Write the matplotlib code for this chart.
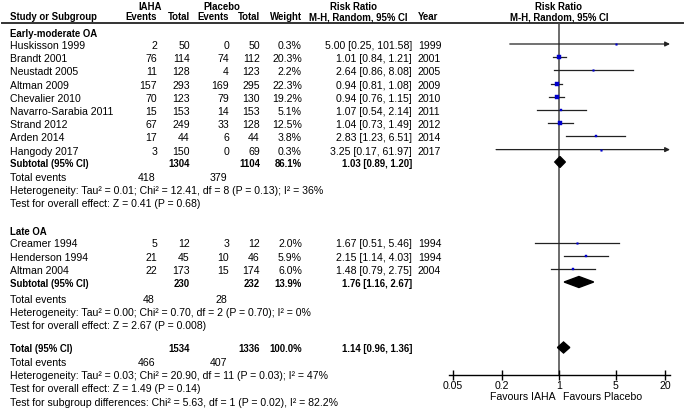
import numpy as np
import matplotlib.pyplot as plt

plt.rcParams['font.family'] = ['Liberation Sans', 'DejaVu Sans']
FS = 7.6
FSB = 6.9  # bold text renders wider, so a bit smaller

# Early-moderate OA studies
early_names = ["Huskisson 1999", "Brandt 2001", "Neustadt 2005", "Altman 2009", "Chevalier 2010",
               "Navarro-Sarabia 2011", "Strand 2012", "Arden 2014", "Hangody 2017"]
early_ev_iaha = [2, 76, 11, 157, 70, 15, 67, 17, 3]
early_tot_iaha = [50, 114, 128, 293, 123, 153, 249, 44, 150]
early_ev_pl = [0, 74, 4, 169, 79, 14, 33, 6, 0]
early_tot_pl = [50, 112, 123, 295, 130, 153, 128, 44, 69]
early_weight = [0.3, 20.3, 2.2, 22.3, 19.2, 5.1, 12.5, 3.8, 0.3]
early_rr = [5.00, 1.01, 2.64, 0.94, 0.94, 1.07, 1.04, 2.83, 3.25]
early_lo = [0.25, 0.84, 0.86, 0.81, 0.76, 0.54, 0.73, 1.23, 0.17]
early_hi = [101.58, 1.21, 8.08, 1.08, 1.15, 2.14, 1.49, 6.51, 61.97]
early_year = [1999, 2001, 2005, 2009, 2010, 2011, 2012, 2014, 2017]

# Late OA studies
late_names = ["Creamer 1994", "Henderson 1994", "Altman 2004"]
late_ev_iaha = [5, 21, 22]
late_tot_iaha = [12, 45, 173]
late_ev_pl = [3, 10, 15]
late_tot_pl = [12, 46, 174]
late_weight = [2.0, 5.9, 6.0]
late_rr = [1.67, 2.15, 1.48]
late_lo = [0.51, 1.14, 0.79]
late_hi = [5.46, 4.03, 2.75]
late_year = [1994, 1994, 2004]

# Pooled results: (total IAHA, total placebo, weight, rr, lo, hi)
sub_early = (1304, 1104, 86.1, 1.03, 0.89, 1.20)
sub_late = (230, 232, 13.9, 1.76, 1.16, 2.67)
overall = (1534, 1336, 100.0, 1.14, 0.96, 1.36)
events_early = (418, 379)
events_late = (48, 28)
events_all = (466, 407)

het_early = ["Heterogeneity: Tau² = 0.01; Chi² = 12.41, df = 8 (P = 0.13); I² = 36%",
             "Test for overall effect: Z = 0.41 (P = 0.68)"]
het_late = ["Heterogeneity: Tau² = 0.00; Chi² = 0.70, df = 2 (P = 0.70); I² = 0%",
            "Test for overall effect: Z = 2.67 (P = 0.008)"]
het_all = ["Heterogeneity: Tau² = 0.03; Chi² = 20.90, df = 11 (P = 0.03); I² = 47%",
           "Test for overall effect: Z = 1.49 (P = 0.14)",
           "Test for subgroup differences: Chi² = 5.63, df = 1 (P = 0.02), I² = 82.2%"]

tick_vals = [0.05, 0.2, 1, 5, 20]
tick_labels = ["0.05", "0.2", "1", "5", "20"]

# layout in pixels
W, H = 685, 410
X_LABEL, X_EV1, X_TOT1, X_EV2, X_TOT2, X_W, X_RR, X_YEAR = 10, 157, 190, 229, 260, 302, 412, 418
PLOT_L, PLOT_R, PLOT_T, PLOT_B = 449, 670, 24, 376
XMIN, XMAX = 0.045, 23.0
STEP = 13.2

fig = plt.figure(figsize=(W / 100, H / 100), dpi=100)
ax = fig.add_axes([0, 0, 1, 1])
ax.set_xlim(0, W)
ax.set_ylim(H, 0)
ax.axis('off')

fx = fig.add_axes([PLOT_L / W, 1 - PLOT_B / H, (PLOT_R - PLOT_L) / W, (PLOT_B - PLOT_T) / H])
fx.set_xscale('log')
fx.set_xlim(XMIN, XMAX)
fx.set_ylim(PLOT_B, PLOT_T)
fx.patch.set_visible(False)
for s in ['top', 'left', 'right']:
    fx.spines[s].set_visible(False)
fx.spines['bottom'].set_linewidth(1)
fx.set_yticks([])
fx.set_xticks(tick_vals)
fx.set_xticklabels(tick_labels, fontsize=FS)
fx.minorticks_off()
fx.tick_params(axis='x', direction='inout', length=7, width=1, pad=0)
fx.axvline(1, color='#444444', lw=1.1, zorder=1)


def txt(x, y, s, ha='left', bold=False):
    ax.text(x, y, s, ha=ha, va='center', fontsize=FSB if bold else FS,
            fontweight='bold' if bold else 'normal')


# headers
txt(150, 6.5, "IAHA", ha='center', bold=True)
txt(222, 6.5, "Placebo", ha='center', bold=True)
txt(354, 6.5, "Risk Ratio", ha='center', bold=True)
txt(559, 6.5, "Risk Ratio", ha='center', bold=True)
txt(X_LABEL, 17.5, "Study or Subgroup", bold=True)
txt(X_EV1, 17.5, "Events", ha='right', bold=True)
txt(X_TOT1, 17.5, "Total", ha='right', bold=True)
txt(X_EV2, 17.5, "Events", ha='right', bold=True)
txt(X_TOT2, 17.5, "Total", ha='right', bold=True)
txt(X_W, 17.5, "Weight", ha='right', bold=True)
txt(358, 17.5, "M-H, Random, 95% CI", ha='center', bold=True)
txt(X_YEAR, 17.5, "Year", bold=True)
txt(559, 17.5, "M-H, Random, 95% CI", ha='center', bold=True)
ax.plot([2, 683], [PLOT_T, PLOT_T], color='#333333', lw=1.4)


def study_rows(y0, names, e1, t1, e2, t2, w, rr, lo, hi, yr):
    ys = y0 + STEP * np.arange(len(names))
    for i, y in enumerate(ys):
        txt(X_LABEL, y + 1, names[i])
        txt(X_EV1, y + 1, str(e1[i]), ha='right')
        txt(X_TOT1, y + 1, str(t1[i]), ha='right')
        txt(X_EV2, y + 1, str(e2[i]), ha='right')
        txt(X_TOT2, y + 1, str(t2[i]), ha='right')
        txt(X_W, y + 1, f"{w[i]:.1f}%", ha='right')
        txt(X_RR, y + 1, f"{rr[i]:.2f} [{lo[i]:.2f}, {hi[i]:.2f}]", ha='right')
        txt(X_YEAR, y + 1, str(yr[i]))
        if hi[i] > XMAX:
            fx.annotate('', xy=(XMAX, y), xytext=(lo[i], y),
                        arrowprops=dict(arrowstyle='-|>', lw=0.9, color='#222222', mutation_scale=7,
                                        shrinkA=0, shrinkB=0), annotation_clip=False)
        else:
            fx.plot([lo[i], hi[i]], [y, y], color='#222222', lw=0.9, zorder=2)
        # square area follows study weight
        side = max(1.6, 1.05 * np.sqrt(w[i]))
        fx.plot(rr[i], y, 's', ms=side * 0.72, color='#0000cc', mec='#0000cc', mew=0.3, zorder=3)
    return ys


def pooled_row(y, label, vals):
    n1, n2, w, rr, lo, hi = vals
    txt(X_LABEL, y + 1, label, bold=True)
    txt(X_TOT1, y + 1, str(n1), ha='right', bold=True)
    txt(X_TOT2, y + 1, str(n2), ha='right', bold=True)
    txt(X_W, y + 1, f"{w:.1f}%", ha='right', bold=True)
    txt(X_RR, y + 1, f"{rr:.2f} [{lo:.2f}, {hi:.2f}]", ha='right', bold=True)
    fx.fill([lo, rr, hi, rr], [y, y - 5.5, y, y + 5.5], color='black', zorder=3)


def events_row(y, ev):
    txt(X_LABEL, y, "Total events")
    txt(X_EV1 - 2, y, str(ev[0]), ha='right')
    txt(X_EV2 - 2, y, str(ev[1]), ha='right')


# Early-moderate OA
txt(X_LABEL, 34, "Early-moderate OA", bold=True)
study_rows(45, early_names, early_ev_iaha, early_tot_iaha, early_ev_pl, early_tot_pl,
           early_weight, early_rr, early_lo, early_hi, early_year)
pooled_row(163, "Subtotal (95% CI)", sub_early)
events_row(178, events_early)
for k, s in enumerate(het_early):
    txt(X_LABEL, 191 + 13 * k, s)

# Late OA
txt(X_LABEL, 232, "Late OA", bold=True)
study_rows(243.5, late_names, late_ev_iaha, late_tot_iaha, late_ev_pl, late_tot_pl,
           late_weight, late_rr, late_lo, late_hi, late_year)
pooled_row(283, "Subtotal (95% CI)", sub_late)
events_row(300, events_late)
for k, s in enumerate(het_late):
    txt(X_LABEL, 313 + 13 * k, s)

# Overall
pooled_row(348.5, "Total (95% CI)", overall)
events_row(363, events_all)
for k, s in enumerate(het_all):
    txt(X_LABEL, 376 + 13.5 * k, s)

txt(556, 397, "Favours IAHA", ha='right')
txt(563, 397, "Favours Placebo")

fig.savefig("out.png", dpi=100)
